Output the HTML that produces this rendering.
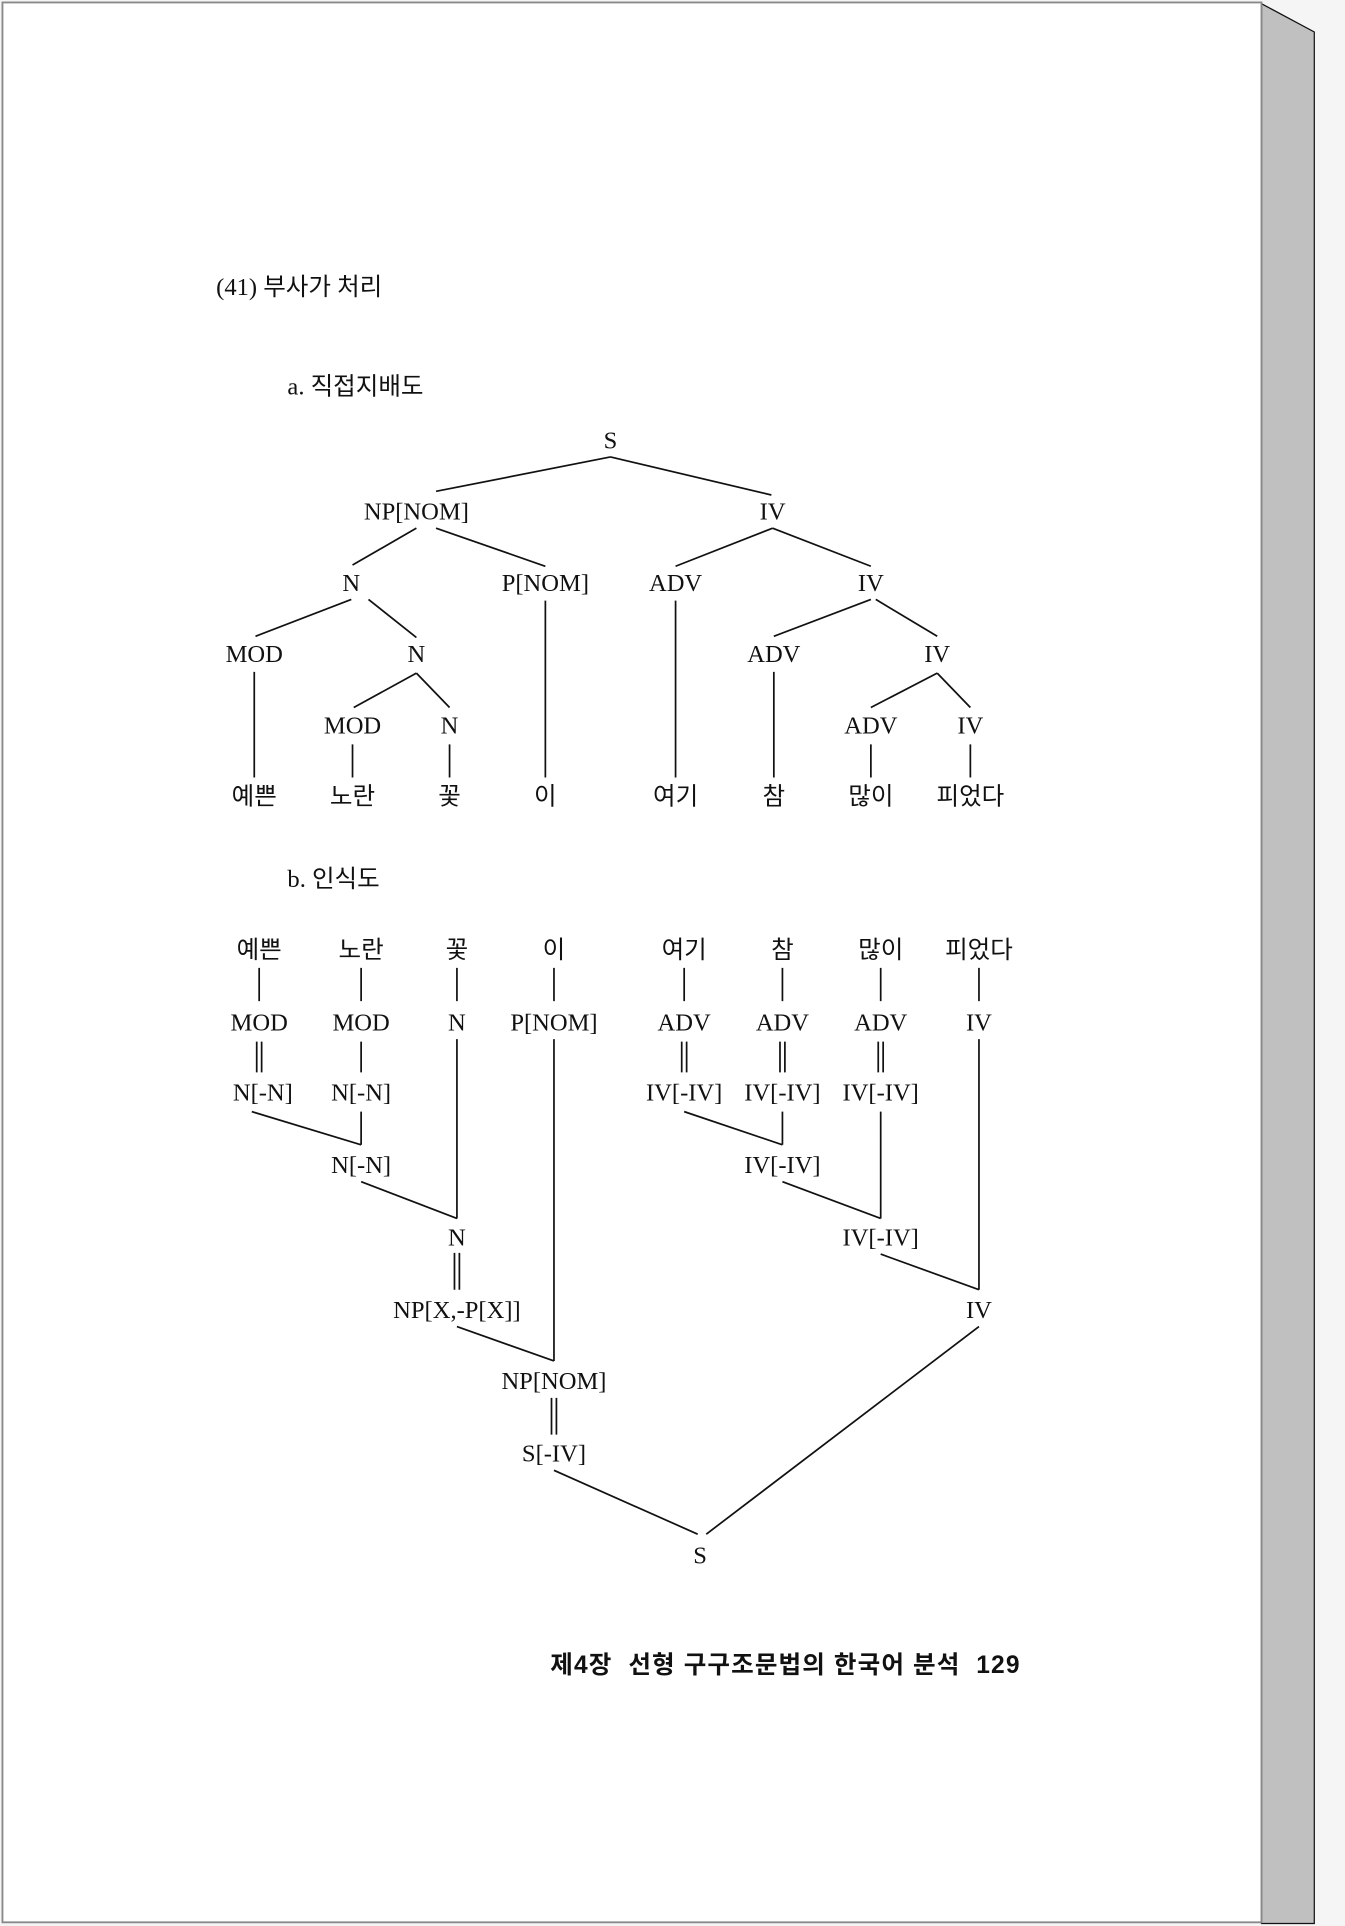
<!DOCTYPE html>
<html><head><meta charset="utf-8"><style>
html,body{margin:0;padding:0;background:#f4f4f4;}
svg{display:block;}
text{font-family:"Liberation Serif","Noto Serif CJK KR","Noto Serif CJK SC",serif;font-size:20px;fill:#111;}
.k{font-family:"Liberation Serif","Noto Sans CJK KR",sans-serif;}
</style></head><body>
<svg width="1345" height="1926" viewBox="0 0 1095 1568" preserveAspectRatio="none" xmlns="http://www.w3.org/2000/svg">
<rect x="0" y="0" width="1095" height="1568" fill="#f5f5f5"/>
<polygon points="1027,3 1070,26 1070,1566 1027,1566" fill="#c0c0c0" stroke="#111" stroke-width="1"/>
<rect x="2" y="2" width="1025" height="1563" fill="#fff" stroke="#888" stroke-width="1.5"/>
<text x="176" y="240" font-size="22">(41) <tspan class="k">부사가 처리</tspan></text>
<text x="234" y="321" font-size="22">a. <tspan class="k">직접지배도</tspan></text>
<text x="234" y="722" font-size="22">b. <tspan class="k">인식도</tspan></text>
<g text-anchor="middle">
<text x="497" y="365">S</text>
<text x="339" y="423">NP[NOM]</text><text x="629" y="423">IV</text>
<text x="286" y="481">N</text><text x="444" y="481">P[NOM]</text><text x="550" y="481">ADV</text><text x="709" y="481">IV</text>
<text x="207" y="539">MOD</text><text x="339" y="539">N</text><text x="630" y="539">ADV</text><text x="763" y="539">IV</text>
<text x="287" y="597">MOD</text><text x="366" y="597">N</text><text x="709" y="597">ADV</text><text x="790" y="597">IV</text>
<text x="207" y="655" class="k">예쁜</text><text x="287" y="655" class="k">노란</text><text x="366" y="655" class="k">꽃</text><text x="444" y="655" class="k">이</text><text x="550" y="655" class="k">여기</text><text x="630" y="655" class="k">참</text><text x="709" y="655" class="k">많이</text><text x="790" y="655" class="k">피었다</text>
<text x="211" y="780" class="k">예쁜</text><text x="294" y="780" class="k">노란</text><text x="372" y="780" class="k">꽃</text><text x="451" y="780" class="k">이</text><text x="557" y="780" class="k">여기</text><text x="637" y="780" class="k">참</text><text x="717" y="780" class="k">많이</text><text x="797" y="780" class="k">피었다</text>
<text x="211" y="839">MOD</text><text x="294" y="839">MOD</text><text x="372" y="839">N</text><text x="451" y="839">P[NOM]</text><text x="557" y="839">ADV</text><text x="637" y="839">ADV</text><text x="717" y="839">ADV</text><text x="797" y="839">IV</text>
<text x="214" y="896">N[-N]</text><text x="294" y="896">N[-N]</text><text x="557" y="896">IV[-IV]</text><text x="637" y="896">IV[-IV]</text><text x="717" y="896">IV[-IV]</text>
<text x="294" y="955">N[-N]</text><text x="637" y="955">IV[-IV]</text>
<text x="372" y="1014">N</text><text x="717" y="1014">IV[-IV]</text>
<text x="372" y="1073">NP[X,-P[X]]</text><text x="797" y="1073">IV</text>
<text x="451" y="1131">NP[NOM]</text>
<text x="451" y="1190">S[-IV]</text>
<text x="570" y="1273">S</text>
</g>
<g stroke="#111" stroke-width="1.4" fill="none">
<path d="M497 372L355 400M497 372L628 403M339 430L287 460M355 430L444 461M629 430L550 461M629 430L709 461M286 488L208 518M300 488L339 519M709 488L630 518M713 488L763 518M339 548L288 576M339 548L366 576M763 548L709 576M763 548L790 576"/>
<path d="M207 547V633M287 606V633M366 606V633M444 489V633M550 489V633M630 547V633M709 606V633M790 606V633"/>
<path d="M211 788V815M294 788V815M372 788V815M451 788V815M557 788V815M637 788V815M717 788V815M797 788V815"/>
<path d="M209 848V873M213 848V873M294 848V873M555 848V873M559 848V873M635 848V873M639 848V873M715 848V873M719 848V873"/>
<path d="M205 905L294 932M294 905V932M294 962L372 992M372 846V992M370 1020V1050M374 1020V1050M372 1080L451 1108M451 846V1108M449 1138V1168M453 1138V1168M451 1197L568 1249M575 1249L797 1080M797 846V1050M717 1021L797 1050M637 962L717 992M717 905V992M557 905L637 932M637 905V932"/>
</g>
<text x="448" y="1362" textLength="382" lengthAdjust="spacing" font-size="20" font-weight="bold" style="font-family:'Liberation Sans','Noto Sans CJK KR',sans-serif;white-space:pre">제4장  선형 구구조문법의 한국어 분석  129</text>
</svg>
</body></html>
